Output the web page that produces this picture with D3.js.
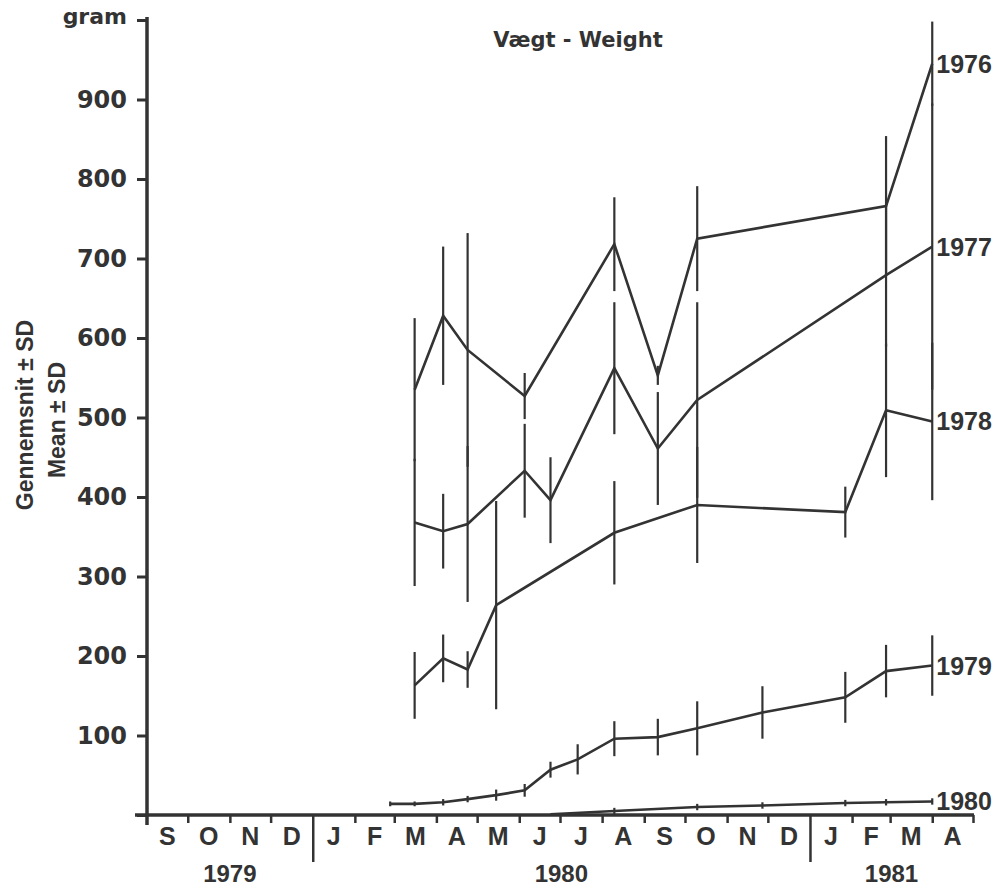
<!DOCTYPE html>
<html><head><meta charset="utf-8">
<script src="https://cdn.jsdelivr.net/npm/d3@7"></script>
<style>
body{margin:0;background:#fff}
svg{display:block}
text{font-family:"Liberation Sans",Arial,sans-serif;font-weight:bold;fill:#333}
</style>
</head><body>
<svg id="c" width="1001" height="888"></svg>
<script>
// ---- data ----
const sampleDates = ["1980-02-27","1980-03-16","1980-04-06","1980-04-24","1980-05-15","1980-06-05","1980-06-24","1980-07-14","1980-08-10","1980-09-11","1980-10-10","1980-11-27","1981-01-27","1981-02-26","1981-04-01"];
const cohorts = ["1976","1977","1978","1979","1980"];
const mean1976 = [null,535,628,585,null,527,null,null,718,553,725,null,null,766,945];
const sd1976   = [null, 90, 87,147,null, 29,null,null, 59, 12, 66,null,null, 88, 53];
const mean1977 = [null,368,357,366,null,433,396,null,562,461,522,null,null,679,715];
const sd1977   = [null, 80, 47, 98,null, 59, 54,null, 83, 71,123,null,null, 90,180];
const mean1978 = [null,163,197,183,264,null,null,null,355,null,390,null,381,509,495];
const sd1978   = [null, 42, 30, 23,131,null,null,null, 65,null, 73,null, 32, 84, 99];
const mean1979 = [14,14,16,20,25,31,57,70,96,98,109,129,148,181,188];
const sd1979   = [ 3, 3, 4, 4, 7, 8,10,19,22,23, 34, 33, 32, 33, 38];
const mean1980 = [null,null,null,null,null,null,1,null,5,null,10,12,15,16,17];
const sd1980   = [null,null,null,null,null,null,0,null,4,null, 4, 4, 4, 4, 4];
const monthLabels = ["S","O","N","D","J","F","M","A","M","J","J","A","S","O","N","D","J","F","M","A"];
const yearLabels = ["1979","1980","1981"];
const yTicks = [0,100,200,300,400,500,600,700,800,900,1000];
const title = "Vægt - Weight";
const yTitle1 = "Gennemsnit ± SD";
const yTitle2 = "Mean ± SD";

// ---- scales ----
const parse = d3.timeParse("%Y-%m-%d");
const start = new Date(1979,8,1), end = new Date(1981,4,1);
const x = d3.scaleTime().domain([start,end]).range([147,973]);
const y = d3.scaleLinear().domain([0,1000]).range([815,20]);
const ink = "#333";
const svg = d3.select("#c");

// ---- axes ----
const months = d3.timeMonth.range(start, end);
const boundaries = d3.timeMonth.range(d3.timeMonth.offset(start,1), d3.timeMonth.offset(end,1));
const xg = svg.append("g").attr("transform","translate(0,815)")
  .call(d3.axisBottom(x).tickValues(boundaries).tickSize(8).tickSizeOuter(0).tickFormat(""));
xg.select(".domain").remove();
xg.selectAll(".tick line").attr("stroke",ink).attr("stroke-width",2.5)
  .attr("y2", d => d.getMonth()===0 ? 47 : 8);
svg.append("line").attr("x1",x(start)-12).attr("x2",x(end)+1).attr("y1",y(0)).attr("y2",y(0))
  .attr("stroke",ink).attr("stroke-width",3.5);

svg.append("g").selectAll("text").data(months).join("text")
  .attr("x", d => (x(d)+x(d3.timeMonth.offset(d,1)))/2)
  .attr("y", 845).attr("text-anchor","middle").attr("font-size",25)
  .text((d,i) => monthLabels[i]);

const years = [[start,new Date(1980,0,1)],[new Date(1980,0,1),new Date(1981,0,1)],[new Date(1981,0,1),end]];
svg.append("g").selectAll("text").data(years).join("text")
  .attr("x", d => (x(d[0])+x(d[1]))/2).attr("y", 882)
  .attr("text-anchor","middle").attr("font-size",24)
  .text((d,i) => yearLabels[i]);

const yg = svg.append("g").attr("transform","translate(147,0)")
  .call(d3.axisLeft(y).tickValues(yTicks).tickSize(10).tickPadding(10).tickSizeOuter(0)
    .tickFormat(d => d===0 ? "" : d===1000 ? "gram" : d));
yg.select(".domain").remove();
yg.selectAll(".tick line").attr("stroke",ink).attr("stroke-width",3);
yg.selectAll(".tick text").attr("font-size",24)
  .style("font-family","'DejaVu Sans',sans-serif").style("font-weight","bold").attr("fill",ink);
yg.selectAll(".tick").filter(d => d===1000).select("text").attr("font-size",22).attr("dy","0.15em");
svg.append("line").attr("x1",147).attr("x2",147).attr("y1",y(1000)-3).attr("y2",825)
  .attr("stroke",ink).attr("stroke-width",3.5);

// titles
svg.append("text").attr("x",578).attr("y",47).attr("text-anchor","middle").attr("font-size",21)
  .style("font-family","'DejaVu Sans',sans-serif").text(title);
svg.append("text").attr("transform","translate(33,415) rotate(-90)").attr("text-anchor","middle")
  .attr("font-size",23).text(yTitle1);
svg.append("text").attr("transform","translate(65,420) rotate(-90)").attr("text-anchor","middle")
  .attr("font-size",23).text(yTitle2);

// ---- series ----
const series = [
  {name:cohorts[0], m:mean1976, s:sd1976},
  {name:cohorts[1], m:mean1977, s:sd1977},
  {name:cohorts[2], m:mean1978, s:sd1978},
  {name:cohorts[3], m:mean1979, s:sd1979},
  {name:cohorts[4], m:mean1980, s:sd1980}
];
const line = d3.line().x(d => x(d.date)).y(d => y(d.mean));
series.forEach(sr => {
  const pts = sampleDates.map((d,i) => ({date:parse(d), mean:sr.m[i], sd:sr.s[i]}))
    .filter(p => p.mean !== null);
  const g = svg.append("g");
  g.selectAll("line.eb").data(pts.filter(p => p.sd > 0)).join("line").attr("class","eb")
    .attr("x1", p => x(p.date)).attr("x2", p => x(p.date))
    .attr("y1", p => y(p.mean - p.sd)).attr("y2", p => y(p.mean + p.sd))
    .attr("stroke",ink).attr("stroke-width",2.2);
  g.append("path").datum(pts).attr("d",line).attr("fill","none")
    .attr("stroke",ink).attr("stroke-width",2.6).attr("stroke-linejoin","miter");
  const last = pts[pts.length-1];
  g.append("text").attr("x", x(last.date)+4).attr("y", y(last.mean))
    .attr("dy","0.36em").attr("font-size",25).text(sr.name);
});
</script>
</body></html>
